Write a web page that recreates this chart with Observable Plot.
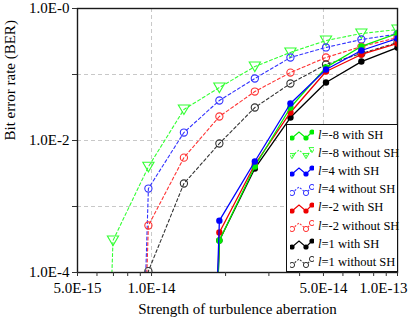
<!DOCTYPE html>
<html><head><meta charset="utf-8">
<script src="https://cdn.jsdelivr.net/npm/d3@7"></script>
<script src="https://cdn.jsdelivr.net/npm/@observablehq/plot@0.6"></script>
<style>
body{margin:0;background:#fff;}
#wrap{position:relative;width:411px;height:322px;font-family:"Liberation Serif","Times New Roman",serif;}
#legend{position:absolute;left:286px;top:124px;width:112px;height:148px;border:1px solid #111;background:#fff;box-sizing:border-box;font-size:12.5px;padding-top:1px;}
.row{height:18.2px;display:flex;align-items:center;padding-left:3px;white-space:nowrap;color:#000;}
.row svg{margin-right:4px;flex:none}
</style></head><body><div id="wrap"></div>
<script>
// x: strength of turbulence aberration (sample points)
const strength = [5.0e-15, 6.97e-15, 9.71e-15, 1.354e-14, 1.887e-14, 2.63e-14, 3.67e-14, 5.12e-14, 7.13e-14, 1.0e-13];
// BER values (1e-20 = effectively zero, below axis)
const greenWith    = [null, null, null, 1e-20, 3.05e-4, 4.04e-3, 3.16e-2, 0.128, 0.266, 0.418];
const greenWithout = [1e-20, 3.05e-4, 4.0e-3, 2.95e-2, 6.35e-2, 0.132, 0.216, 0.327, 0.418, 0.48];
const blueWith     = [null, null, null, 1e-20, 6.1e-4, 4.8e-3, 3.64e-2, 0.119, 0.231, 0.351];
const blueWithout  = [null, 1e-20, 1.87e-3, 1.32e-2, 4.04e-2, 8.7e-2, 0.181, 0.257, 0.339, 0.41];
const redWith      = [null, null, null, 1e-20, 4.04e-4, 4.33e-3, 2.66e-2, 0.111, 0.201, 0.295];
const redWithout   = [null, 1e-20, 5.15e-4, 5.5e-3, 2.31e-2, 5.52e-2, 0.107, 0.181, 0.265, 0.363];
const blackWith    = [null, null, null, 1e-20, 3.05e-4, 3.77e-3, 2.23e-2, 7.57e-2, 0.157, 0.256];
const blackWithout = [null, 1e-20, 1.05e-4, 2.23e-3, 9.0e-3, 3.16e-2, 7.3e-2, 0.142, 0.208, 0.305];

const seriesNames = ["l=-8 with SH","l=-8 without SH","l=4 with SH","l=4 without SH","l=-2 with SH","l=-2 without SH","l=1 with SH","l=1 without SH"];
const seriesColors = ["#00ee00","#33ff33","#0000ff","#3333ff","#ee0000","#ff3333","#000000","#333333"];
const legendMain = ["=-8 with SH","=-8 without SH","=4 with SH","=4 without SH","=-2 with SH","=-2 without SH","=1 with SH","=1 without SH"];

const xTicksMajor = [5e-15, 1e-14, 5e-14, 1e-13];
const xTickLabels = ["5.0E-15", "1.0E-14", "5.0E-14", "1.0E-13"];
const xTicksMinor = [5e-15,6e-15,7e-15,8e-15,9e-15,1e-14,2e-14,3e-14,4e-14,5e-14,6e-14,7e-14,8e-14,9e-14,1e-13];
const yTicks = [1, 0.1, 0.01, 0.001, 1e-4];
const yTickLabels = ["1.0E-0", "", "1.0E-2", "", "1.0E-4"];
const xGrid = [1e-14, 5e-14];
const yGrid = [0.1, 0.01, 0.001];

const allSeries = [greenWith, greenWithout, blueWith, blueWithout, redWith, redWithout, blackWith, blackWithout];
const rows = [];
allSeries.forEach((vals, s) => vals.forEach((v, k) => rows.push({series: seriesNames[s], s, x: strength[k], y: v})));

const downTriangle = {draw(ctx, size) {
  const r = Math.sqrt(size / 1.3);
  ctx.moveTo(-r, -r*0.8); ctx.lineTo(r, -r*0.8); ctx.lineTo(0, r*0.9); ctx.closePath();
}};

// draw order: dashed first, then solid (black, red, green, blue)
const order = [1, 3, 5, 7, 6, 4, 0, 2];
const marks = [
  Plot.gridY(yGrid, {stroke: "#c8c8c8", strokeOpacity: 1, strokeDasharray: "4,3"}),
  Plot.gridX(xGrid, {stroke: "#c8c8c8", strokeOpacity: 1, strokeDasharray: "4,3"}),
];
for (const s of order) {
  const data = rows.filter(d => d.s === s);
  const dashed = s % 2 === 1;
  const c = seriesColors[s];
  marks.push(Plot.line(data, {x: "x", y: "y", stroke: c, strokeWidth: dashed ? 1.1 : 1.3, strokeDasharray: dashed ? "3,2.5" : null, clip: true, defined: d => d.y != null}));
  const pts = data.filter(d => d.y != null && d.y > 1e-6);
  if (dashed) {
    marks.push(Plot.dot(pts, {x: "x", y: "y", r: 3.6, stroke: c, fill: "white", fillOpacity: 0, strokeWidth: 1.1, symbol: s === 1 ? downTriangle : "circle", clip: true}));
  } else {
    marks.push(Plot.dot(pts, {x: "x", y: "y", r: 3.2, fill: c, stroke: "none", clip: true}));
  }
}
const labelMap = new Map(xTicksMajor.map((d, i) => [d, xTickLabels[i]]));
const yLabelMap = new Map(yTicks.map((d, i) => [d, yTickLabels[i]]));
marks.push(
  Plot.frame({stroke: "#1a1a1a", strokeWidth: 1.4}),
  Plot.axisX({ticks: xTicksMinor, tickSize: 4, tickFormat: () => "", stroke: "#333", label: null}),
  Plot.axisX({ticks: xTicksMajor.slice(0, 3), tickSize: 0, tickPadding: 10, tickFormat: d => labelMap.get(d), fontSize: 15, label: null}),
  Plot.axisX({ticks: [1e-13], tickSize: 0, tickPadding: 10, dx: -14, tickFormat: d => labelMap.get(d), fontSize: 15, label: null}),
  Plot.axisY({ticks: yTicks, tickSize: 5, tickPadding: 3, tickFormat: d => yLabelMap.get(d), fontSize: 15, stroke: "#333", label: null}),
  Plot.text(["Strength of turbulence aberration"], {frameAnchor: "bottom", dy: 37, text: d => d, fontSize: 15, lineAnchor: "middle"}),
  Plot.text(["Bit error rate (BER)"], {frameAnchor: "left", dx: -67, rotate: -90, text: d => d, fontSize: 15, lineAnchor: "middle"})
);

const chart = Plot.plot({
  width: 411, height: 322,
  marginLeft: 77, marginRight: 14, marginTop: 8, marginBottom: 50,
  style: {fontFamily: '"Liberation Serif","Times New Roman",serif', fontSize: "15px", color: "#000", background: "#fff"},
  x: {type: "log", domain: [5e-15, 1e-13], axis: null, label: null},
  y: {type: "log", domain: [1e-4, 1], axis: null, label: null},
  marks
});
const wrap = document.getElementById("wrap");
wrap.appendChild(chart);

// legend
const leg = document.createElement("div");
leg.id = "legend";
seriesNames.forEach((name, s) => {
  const row = document.createElement("div");
  row.className = "row";
  const dashed = s % 2 === 1;
  const c = seriesColors[s];
  const svg = d3.create("svg").attr("width", 24).attr("height", 12);
  const pts = [[2, 9], [9, 3], [16, 9], [22, 3]];
  svg.append("path").attr("d", d3.line()(pts)).attr("fill", "none").attr("stroke", c)
    .attr("stroke-width", 1.1).attr("stroke-dasharray", dashed ? "2,1.5" : null);
  [pts[0], pts[2], pts[3]].forEach(p => {
    if (dashed) {
      if (s === 1) svg.append("path").attr("d", `M${p[0]-3},${p[1]-2.4}L${p[0]+3},${p[1]-2.4}L${p[0]},${p[1]+2.7}Z`).attr("fill", "none").attr("stroke", c);
      else svg.append("circle").attr("cx", p[0]).attr("cy", p[1]).attr("r", 2.6).attr("fill", "white").attr("stroke", c);
    } else svg.append("circle").attr("cx", p[0]).attr("cy", p[1]).attr("r", 2.6).attr("fill", c);
  });
  row.appendChild(svg.node());
  const t = document.createElement("span");
  t.innerHTML = "<i>l</i>" + legendMain[s];
  row.appendChild(t);
  leg.appendChild(row);
});
wrap.appendChild(leg);
</script></body></html>
